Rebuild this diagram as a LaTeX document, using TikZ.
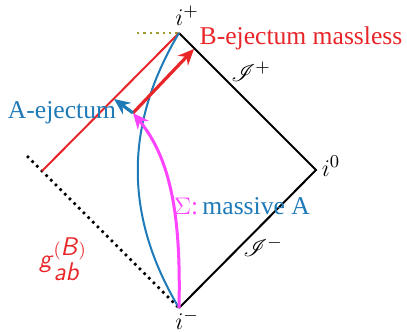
\documentclass[tikz,border=0pt]{standalone}
\usepackage{mathrsfs}
\usepackage{fontspec}
\setmainfont{Liberation Serif}
\usetikzlibrary{arrows.meta}
\definecolor{cred}{HTML}{E8262A}
\definecolor{cblue}{HTML}{1F7AB8}
\definecolor{cmag}{HTML}{FF44FF}
\definecolor{colive}{HTML}{A09A30}
\begin{document}
\begin{tikzpicture}[x=0.5pt,y=-0.5pt,
  edge/.style={line width=1pt,black},
  lbl/.style={inner sep=0pt,font=\fontsize{12.8}{15}\selectfont},
  arr/.style={line width=1.6pt,-{Stealth[length=8pt,width=7pt]}}]
\useasboundingbox (0,0) rectangle (407,332);
\coordinate (ip) at (179,33);
\coordinate (io) at (316,170);
\coordinate (im) at (179,308);
\coordinate (ol) at (137,33);
\coordinate (dt) at (27,156);
\coordinate (re) at (42,171);
\coordinate (p) at (133,113);
\coordinate (bt) at (194,49);
\coordinate (at) at (114,99);
% olive dotted
\draw[colive,line width=1.2pt,dotted] (ol) -- (ip);
% black dotted
\draw[black,line width=1.3pt,dotted] (dt) -- (im);
% diamond edges
\draw[edge,line join=miter] (ip) -- (io) -- (im);
% red null line
\draw[cred,line width=1pt] (ip) -- (re);
% blue worldline
\draw[cblue,line width=1pt] (im) .. controls (124,216) and (124,125) .. (ip);
% magenta
\draw[cmag,line width=1.5pt,-{Stealth[length=8pt,width=7pt]}] (im) .. controls (181,220) and (172,160) .. (p);
% arrows
\draw[arr,cred] (p) -- (bt);
\draw[arr,cblue] (p) -- (at);
% labels
\node[lbl] (lip) at (187,16) {$i^+$};
\node[lbl] (lio) at (331,166) {$i^0$};
\node[lbl] (lim) at (187,320) {$i^-$};
\node[lbl] (lsp) at (251,72) {$\mathscr{I}^+$};
\node[lbl] (lsm) at (263,247) {$\mathscr{I}^-$};
\node[lbl,cred] (lB) at (301,38) {B-ejectum massless};
\node[lbl,cblue] (lA) at (62,113) {A-ejectum};
\node[lbl] (lS) at (242,206) {\textcolor{cmag}{$\Sigma$:}\,\textcolor{cblue}{massive A}};
\node[lbl,cred] (lg) at (63,259) {$\textsf{\textit{g}}_{\textsf{\textit{ab}}}^{(\textsf{\textit{B}})}$};
\end{tikzpicture}
\end{document}
